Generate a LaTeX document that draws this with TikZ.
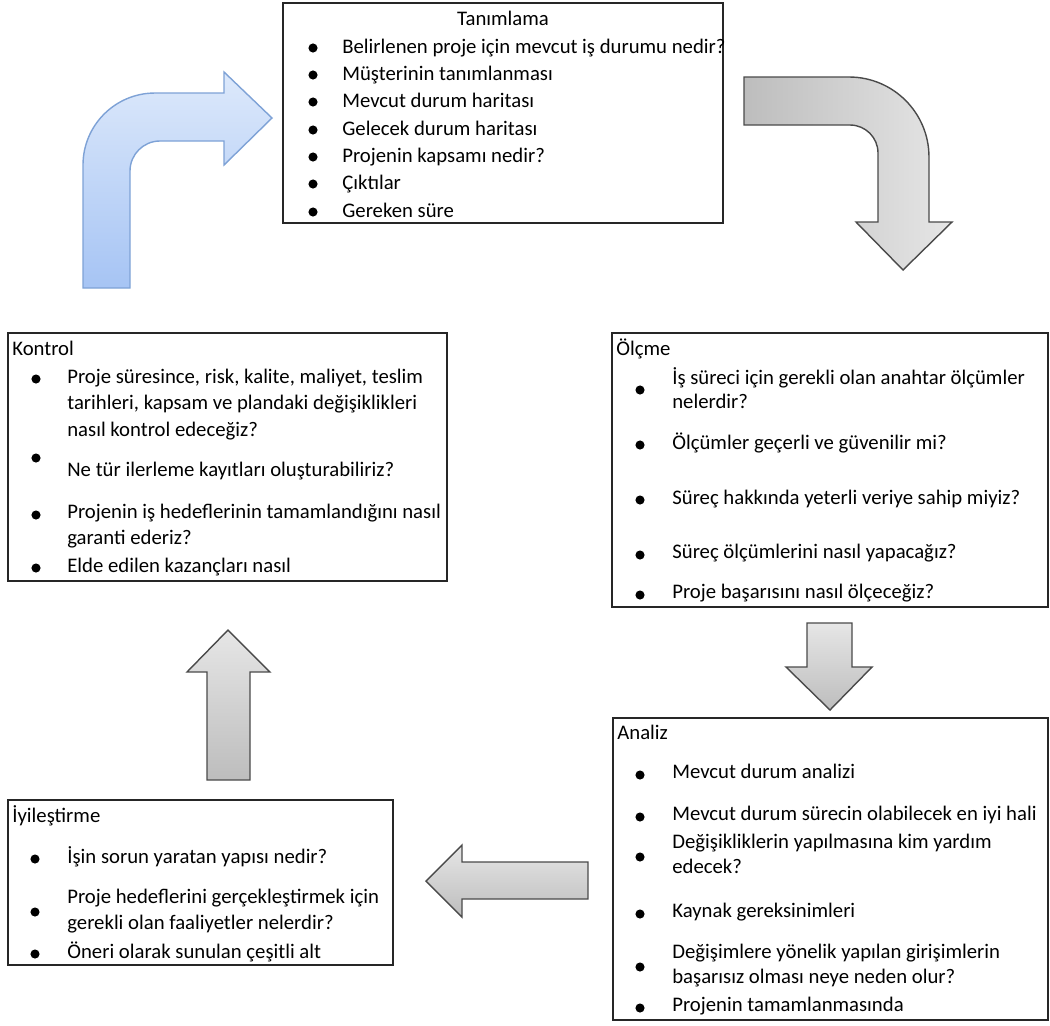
\documentclass[tikz,border=0pt]{standalone}
\usepackage{fontspec}
\setmainfont{Carlito}
\usetikzlibrary{positioning}
\definecolor{blueTop}{HTML}{DDE9FB}
\definecolor{blueBot}{HTML}{A6C4F4}
\definecolor{blueEdge}{HTML}{7EA2D6}
\definecolor{greyLight}{HTML}{E6E6E6}
\definecolor{greyDark}{HTML}{BDBDBD}
\definecolor{greyEdge}{HTML}{4A4A4A}
\begin{document}
\begin{tikzpicture}[
    x=0.02cm, y=-0.02cm,
    % cajas y textos
    box/.style={rectangle, draw=black!85, line width=0.7pt, inner sep=0pt},
    item/.style={anchor=west, inner sep=0pt, text height=0.8em, text depth=0.2em, font=\fontsize{11.8}{14}\selectfont},
    % flechas de bloque
    greyarrow/.style={draw=greyEdge, line width=0.8pt, top color=greyLight, bottom color=greyDark},
    bluearrow/.style={draw=blueEdge, line width=0.8pt, top color=blueTop, bottom color=blueBot}
    ]
    \useasboundingbox (0,0) rectangle (1050,1025);

    % Cajas
    \node (tanim) [box, minimum width=8.8cm, minimum height=4.4cm] at (503,113) {};
    \node (olcme) [box, minimum width=8.72cm, minimum height=5.48cm] at (830,470) {};
    \node (kontrol) [box, minimum width=8.78cm, minimum height=4.96cm] at (227.5,457) {};
    \node (analiz) [box, minimum width=8.7cm, minimum height=6.04cm] at (830.5,869) {};
    \node (iyi) [box, minimum width=7.7cm, minimum height=3.3cm] at (200.5,882.5) {};

    % Tanımlama
    \node (tanimT) [item, anchor=center] at (503,20) {Tanımlama};
    \node (t1) [item] at (342,48) {Belirlenen proje için mevcut iş durumu nedir?};
    \node (t2) [item] at (342,75) {Müşterinin tanımlanması};
    \node (t3) [item] at (342,102) {Mevcut durum haritası};
    \node (t4) [item] at (342,130) {Gelecek durum haritası};
    \node (t5) [item] at (342,157) {Projenin kapsamı nedir?};
    \node (t6) [item] at (342,184) {Çıktılar};
    \node (t7) [item] at (342,212) {Gereken süre};
    \foreach \y in {48,75,102,130,157,184,212}
        \fill (313,\y) circle (2.6pt);

    % Ölçme
    \node (olcmeT) [item] at (616,350) {Ölçme};
    \node (o1) [item] at (672,379) {İş süreci için gerekli olan anahtar ölçümler};
    \node (o1b) [item] at (672,403) {nelerdir?};
    \node (o2) [item] at (672,444) {Ölçümler geçerli ve güvenilir mi?};
    \node (o3) [item] at (672,499) {Süreç hakkında yeterli veriye sahip miyiz?};
    \node (o4) [item] at (672,553) {Süreç ölçümlerini nasıl yapacağız?};
    \node (o5) [item] at (672,593) {Proje başarısını nasıl ölçeceğiz?};
    \foreach \y in {390,445,500,555,595}
        \fill (640,\y) circle (2.6pt);

    % Analiz
    \node (analizT) [item] at (617,734) {Analiz};
    \node (a1) [item] at (672,773) {Mevcut durum analizi};
    \node (a2) [item] at (672,815) {Mevcut durum sürecin olabilecek en iyi hali};
    \node (a3) [item] at (672,843) {Değişikliklerin yapılmasına kim yardım};
    \node (a3b) [item] at (672,868) {edecek?};
    \node (a4) [item] at (672,912) {Kaynak gereksinimleri};
    \node (a5) [item] at (672,953) {Değişimlere yönelik yapılan girişimlerin};
    \node (a5b) [item] at (672,978) {başarısız olması neye neden olur?};
    \node (a6) [item] at (672,1006) {Projenin tamamlanmasında};
    \foreach \y in {775,817,857,914,967,1008}
        \fill (640,\y) circle (2.6pt);

    % Kontrol
    \node (kontrolT) [item] at (12,350) {Kontrol};
    \node (k1) [item] at (67,378) {Proje süresince, risk, kalite, maliyet, teslim};
    \node (k1b) [item] at (67,404) {tarihleri, kapsam ve plandaki değişiklikleri};
    \node (k1c) [item] at (67,431) {nasıl kontrol edeceğiz?};
    \node (k2) [item] at (67,471) {Ne tür ilerleme kayıtları oluşturabiliriz?};
    \node (k3) [item] at (67,513) {Projenin iş hedeflerinin tamamlandığını nasıl};
    \node (k3b) [item] at (67,539) {garanti ederiz?};
    \node (k4) [item] at (67,567) {Elde edilen kazançları nasıl};
    \foreach \y in {379,458,515,568}
        \fill (36,\y) circle (2.6pt);

    % İyileştirme
    \node (iyiT) [item] at (12,817) {İyileştirme};
    \node (i1) [item] at (67,858) {İşin sorun yaratan yapısı nedir?};
    \node (i2) [item] at (67,898) {Proje hedeflerini gerçekleştirmek için};
    \node (i2b) [item] at (67,924) {gerekli olan faaliyetler nelerdir?};
    \node (i3) [item] at (67,953) {Öneri olarak sunulan çeşitli alt};
    \foreach \y in {859,912,954}
        \fill (35,\y) circle (2.6pt);

    % Flechas de bloque
    \draw [bluearrow] (83,288) -- (83,165) arc[start angle=180, end angle=90, radius=1.44cm]
        -- (224,93) -- (224,72) -- (272,118) -- (224,165) -- (224,141) -- (160,141)
        arc[start angle=90, end angle=180, radius=0.6cm] -- (130,288) -- cycle;
    \draw [greyarrow, top color=greyLight, bottom color=greyLight, left color=greyDark, right color=greyLight]
        (744,77) -- (849,77) arc[start angle=90, end angle=0, radius=1.6cm]
        -- (929,222) -- (952,222) -- (903,270) -- (856,222) -- (878,222) -- (878,153)
        arc[start angle=0, end angle=90, radius=0.56cm] -- (744,125) -- cycle;
    \draw [greyarrow] (807,623) -- (852,623) -- (852,667) -- (872,667) -- (830,710)
        -- (786,667) -- (807,667) -- cycle;
    \draw [greyarrow] (207,780) -- (207,672) -- (187,672) -- (228,630) -- (270,672)
        -- (250,672) -- (250,780) -- cycle;
    \draw [greyarrow] (588,862) -- (462,862) -- (462,845) -- (426,881) -- (462,917)
        -- (462,899) -- (588,899) -- cycle;
\end{tikzpicture}
\end{document}
